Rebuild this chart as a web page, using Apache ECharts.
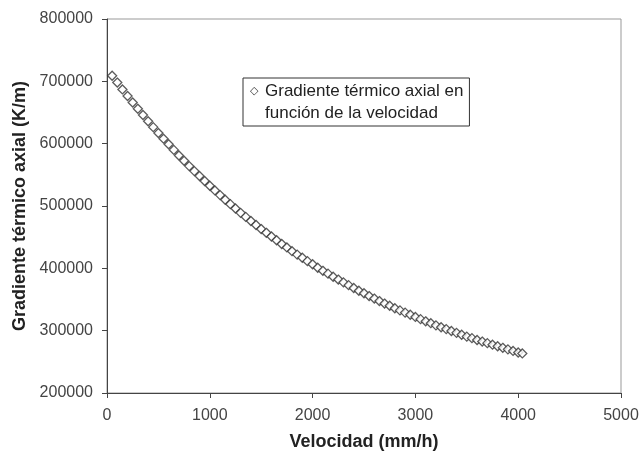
<!DOCTYPE html>
<html>
<head>
<meta charset="utf-8">
<script src="https://cdn.jsdelivr.net/npm/echarts@6/dist/echarts.min.js"></script>
<style>
  html, body { margin: 0; padding: 0; background: #fff; }
  #chart { width: 642px; height: 456px; }
</style>
</head>
<body>
<div id="chart"></div>
<script>
// velocidad (mm/h) y gradiente (K/m)
var velocidad = [
  50, 100, 150, 200, 250, 300, 350, 400, 450, 500,
  550, 600, 650, 700, 750, 800, 850, 900, 950, 1000,
  1050, 1100, 1150, 1200, 1250, 1300, 1350, 1400, 1450, 1500,
  1550, 1600, 1650, 1700, 1750, 1800, 1850, 1900, 1950, 2000,
  2050, 2100, 2150, 2200, 2250, 2300, 2350, 2400, 2450, 2500,
  2550, 2600, 2650, 2700, 2750, 2800, 2850, 2900, 2950, 3000,
  3050, 3100, 3150, 3200, 3250, 3300, 3350, 3400, 3450, 3500,
  3550, 3600, 3650, 3700, 3750, 3800, 3850, 3900, 3950, 4000, 4040
]
var gradiente = [
  709000, 698000, 687000, 676500, 666000, 656000, 646000, 636000, 626500, 617000,
  608000, 599000, 590000, 581000, 572500, 564000, 556000, 548000, 540000, 532500,
  525000, 517500, 510000, 503000, 496000, 489000, 482500, 476000, 469500, 463000,
  457000, 451000, 445000, 439000, 433500, 427500, 422000, 417000, 411500, 406500,
  401000, 396000, 391500, 386500, 382000, 377500, 373000, 368500, 364000, 360000,
  355500, 351500, 347500, 343500, 340000, 336000, 332500, 329000, 325500, 322000,
  318500, 315000, 312000, 308500, 305500, 302500, 299500, 296500, 293500, 290500,
  288000, 285000, 282500, 280000, 277500, 275000, 272500, 270000, 267500, 265000, 263500
]
var xTicks = { min: 0, max: 5000, step: 1000 }
var yTicks = { min: 200000, max: 800000, step: 100000 }
var serieNombre = 'Gradiente térmico axial en función de la velocidad'

var puntos = velocidad.map(function (v, i) { return [v, gradiente[i]] })

var chart = echarts.init(document.getElementById('chart'))
var font = '"Liberation Sans", Arial, sans-serif'

chart.setOption({
  animation: false,
  textStyle: { fontFamily: font },
  grid: {
    left: 107, right: 21, top: 19, bottom: 61,
    show: true, borderColor: '#999', borderWidth: 1
  },
  legend: {
    left: 243, top: 78,
    padding: [5, 6, 4, 2],
    itemWidth: 0, itemHeight: 0,
    backgroundColor: '#fff',
    borderColor: '#333', borderWidth: 1,
    data: [{ name: serieNombre, icon: 'none' }],
    formatter: function () {
      return '{i|◇}{t|Gradiente térmico axial en}\n{i| }{t|función de la velocidad}'
    },
    textStyle: {
      rich: {
        i: { fontFamily: '"DejaVu Sans"', fontSize: 11, width: 15, lineHeight: 22, color: '#333' },
        t: { fontFamily: font, fontSize: 17, lineHeight: 22, color: '#222' }
      }
    }
  },
  xAxis: {
    type: 'value',
    min: xTicks.min, max: xTicks.max, interval: xTicks.step,
    name: 'Velocidad (mm/h)',
    nameLocation: 'middle',
    nameGap: 40,
    nameTextStyle: { fontFamily: font, fontSize: 18, fontWeight: 'bold', color: '#222' },
    axisLine: { lineStyle: { color: '#444', width: 1 } },
    axisTick: { show: true, inside: false, length: 5, lineStyle: { color: '#444' } },
    axisLabel: {
      margin: 15, fontSize: 16, color: '#444', fontFamily: font,
      formatter: function (v) { return String(v) }
    },
    splitLine: { show: false }
  },
  yAxis: {
    type: 'value',
    min: yTicks.min, max: yTicks.max, interval: yTicks.step,
    name: 'Gradiente térmico axial (K/m)',
    nameLocation: 'middle',
    nameGap: 74,
    nameTextStyle: { fontFamily: font, fontSize: 18, fontWeight: 'bold', color: '#222' },
    axisLine: { show: true, lineStyle: { color: '#444', width: 1 } },
    axisTick: { show: true, inside: false, length: 5, lineStyle: { color: '#444' } },
    axisLabel: {
      margin: 14, fontSize: 16, color: '#444', fontFamily: font,
      formatter: function (v) { return String(v) }
    },
    splitLine: { show: false }
  },
  series: [
    {
      name: serieNombre,
      type: 'scatter',
      symbol: 'diamond',
      symbolSize: [9, 9],
      itemStyle: { color: '#fff', borderColor: '#333', borderWidth: 1.3 },
      data: puntos
    }
  ]
})
</script>
</body>
</html>
